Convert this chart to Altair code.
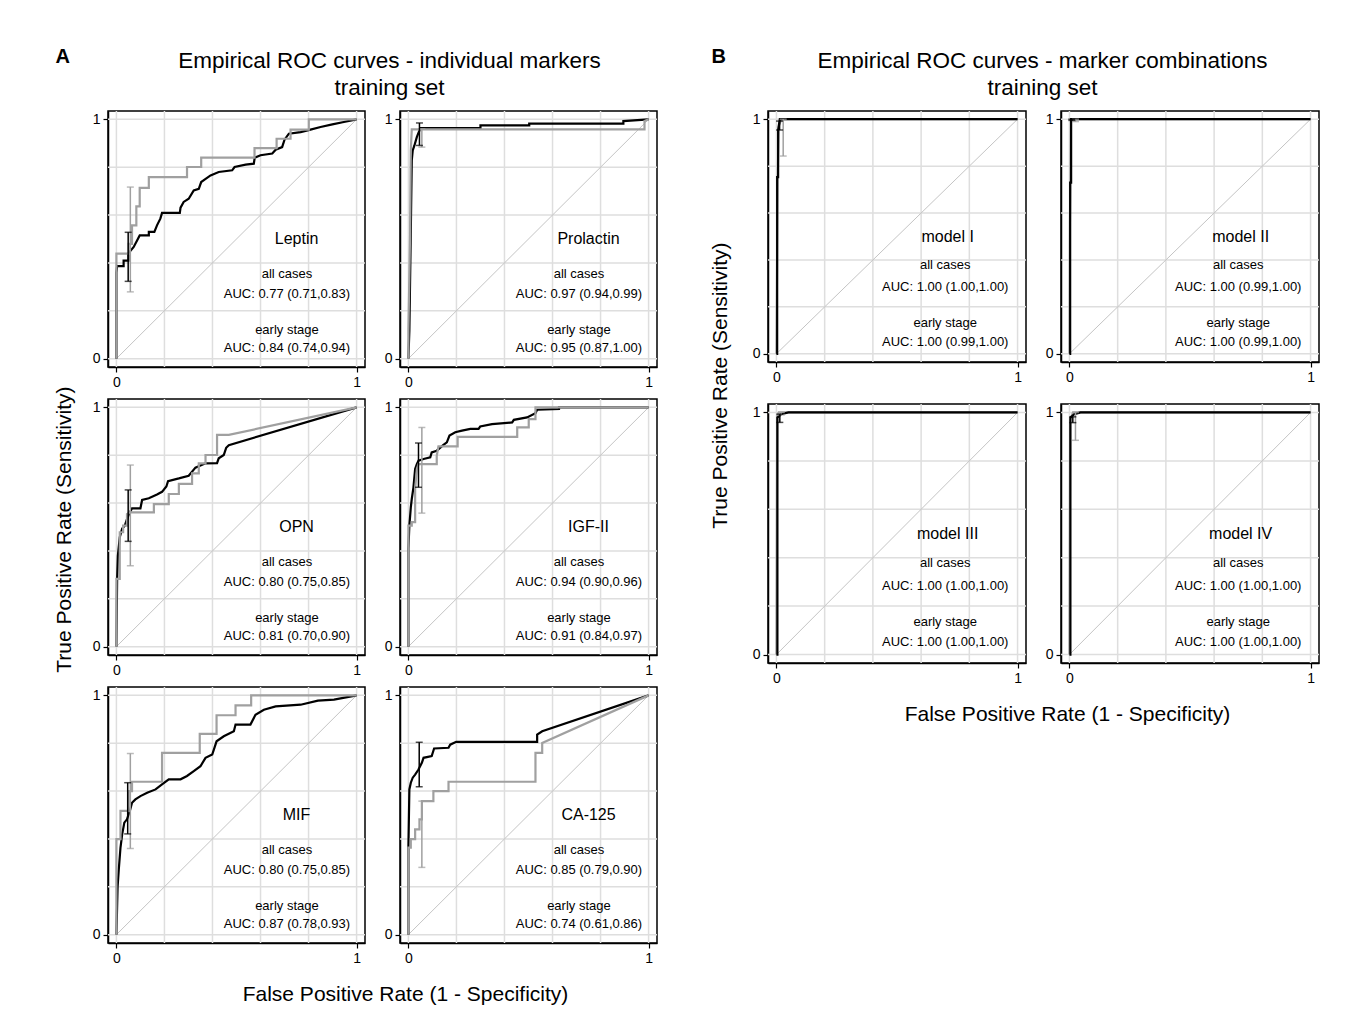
import altair as alt
import pandas as pd

FONT = "Liberation Sans"
BLACK = "#000000"
GRAY = "#a0a0a0"
GRID_C = "#dedede"
DIAG_C = "#c4c4c4"

# ---------------- data ----------------
markers = ["Leptin", "Prolactin", "OPN", "IGF-II", "MIF", "CA-125"]
models = ["model I", "model II", "model III", "model IV"]

# AUC (estimate, lower, upper)
marker_auc_all = [(0.77, 0.71, 0.83), (0.97, 0.94, 0.99), (0.80, 0.75, 0.85),
                  (0.94, 0.90, 0.96), (0.80, 0.75, 0.85), (0.85, 0.79, 0.90)]
marker_auc_early = [(0.84, 0.74, 0.94), (0.95, 0.87, 1.00), (0.81, 0.70, 0.90),
                    (0.91, 0.84, 0.97), (0.87, 0.78, 0.93), (0.74, 0.61, 0.86)]
model_auc_all = [(1.00, 1.00, 1.00), (1.00, 0.99, 1.00), (1.00, 1.00, 1.00), (1.00, 1.00, 1.00)]
model_auc_early = [(1.00, 0.99, 1.00), (1.00, 0.99, 1.00), (1.00, 1.00, 1.00), (1.00, 1.00, 1.00)]

# ROC curve vertices (FPR, TPR): "all cases" (black) and "early stage" (gray)
leptin_all = [(0, 0), (0, 0.36), (0.003, 0.387), (0.03, 0.387), (0.03, 0.41), (0.05, 0.41), (0.05, 0.44),
              (0.072, 0.467), (0.086, 0.494), (0.097, 0.515), (0.135, 0.515), (0.135, 0.53), (0.158, 0.53),
              (0.169, 0.557), (0.183, 0.585), (0.19, 0.609), (0.264, 0.609), (0.267, 0.631), (0.28, 0.655),
              (0.301, 0.668), (0.322, 0.703), (0.343, 0.71), (0.353, 0.738), (0.367, 0.748), (0.392, 0.766),
              (0.426, 0.78), (0.482, 0.787), (0.492, 0.801), (0.538, 0.811), (0.572, 0.815), (0.576, 0.84),
              (0.6, 0.85), (0.649, 0.857), (0.663, 0.873), (0.69, 0.884), (0.7, 0.915), (0.718, 0.94),
              (0.767, 0.947), (0.808, 0.957), (0.85, 0.968), (0.899, 0.979), (0.947, 0.989), (1, 1)]
leptin_early = [(0, 0), (0, 0.439), (0.051, 0.439), (0.051, 0.48), (0.065, 0.48), (0.065, 0.557), (0.083, 0.557),
                (0.083, 0.636), (0.097, 0.636), (0.097, 0.714), (0.135, 0.714), (0.135, 0.759), (0.294, 0.759),
                (0.294, 0.801), (0.353, 0.801), (0.353, 0.84), (0.575, 0.84), (0.575, 0.88), (0.667, 0.88),
                (0.667, 0.919), (0.725, 0.919), (0.725, 0.957), (0.801, 0.957), (0.801, 1), (1, 1)]

prolactin_all = [(0, 0), (0.004, 0.118), (0.01, 0.536), (0.014, 0.829), (0.018, 0.87), (0.025, 0.891),
                 (0.035, 0.926), (0.046, 0.954), (0.049, 0.964), (0.3, 0.964), (0.3, 0.975), (0.503, 0.975),
                 (0.503, 0.982), (0.895, 0.982), (0.895, 0.993), (1, 1)]
prolactin_early = [(0, 0), (0, 0.118), (0.007, 0.52), (0.01, 0.87), (0.014, 0.958), (0.983, 0.958),
                   (0.983, 0.993), (1, 1)]

opn_all = [(0, 0), (0.003, 0.283), (0.006, 0.38), (0.014, 0.457), (0.024, 0.494), (0.035, 0.506), (0.044, 0.533),
           (0.056, 0.561), (0.065, 0.578), (0.1, 0.578), (0.107, 0.613), (0.135, 0.62), (0.169, 0.636),
           (0.19, 0.647), (0.208, 0.669), (0.215, 0.692), (0.26, 0.703), (0.301, 0.714), (0.329, 0.748),
           (0.371, 0.766), (0.419, 0.767), (0.426, 0.787), (0.447, 0.801), (0.457, 0.831), (0.468, 0.842), (1, 1)]
opn_early = [(0, 0), (0, 0.283), (0.014, 0.283), (0.014, 0.478), (0.028, 0.478), (0.028, 0.506), (0.044, 0.506),
             (0.044, 0.554), (0.056, 0.561), (0.156, 0.561), (0.156, 0.596), (0.218, 0.596), (0.218, 0.638),
             (0.26, 0.638), (0.26, 0.68), (0.315, 0.68), (0.315, 0.724), (0.343, 0.724), (0.343, 0.766),
             (0.371, 0.766), (0.371, 0.801), (0.419, 0.801), (0.419, 0.885), (0.468, 0.885), (1, 1)]

igf_all = [(0, 0), (0, 0.408), (0.004, 0.506), (0.01, 0.582), (0.014, 0.617), (0.021, 0.666), (0.028, 0.742),
           (0.035, 0.763), (0.042, 0.777), (0.063, 0.784), (0.091, 0.791), (0.097, 0.812), (0.118, 0.819),
           (0.146, 0.843), (0.16, 0.854), (0.171, 0.882), (0.195, 0.896), (0.223, 0.903), (0.258, 0.91),
           (0.292, 0.91), (0.299, 0.92), (0.348, 0.93), (0.432, 0.937), (0.439, 0.948), (0.494, 0.958),
           (0.529, 0.976), (0.536, 0.99), (0.627, 0.993), (0.627, 1), (1, 1)]
igf_early = [(0, 0), (0, 0.506), (0.014, 0.506), (0.014, 0.52), (0.028, 0.52), (0.028, 0.659), (0.035, 0.742),
             (0.042, 0.763), (0.118, 0.763), (0.118, 0.798), (0.125, 0.837), (0.205, 0.837), (0.205, 0.877),
             (0.453, 0.877), (0.453, 0.916), (0.501, 0.916), (0.501, 0.951), (0.529, 0.951), (0.529, 1), (1, 1)]

mif_all = [(0, 0), (0.005, 0.2), (0.01, 0.274), (0.017, 0.364), (0.024, 0.419), (0.033, 0.468), (0.044, 0.482),
           (0.056, 0.517), (0.065, 0.551), (0.079, 0.565), (0.1, 0.579), (0.128, 0.593), (0.163, 0.607),
           (0.194, 0.631), (0.218, 0.649), (0.267, 0.649), (0.294, 0.663), (0.322, 0.683), (0.35, 0.704),
           (0.371, 0.739), (0.399, 0.753), (0.417, 0.808), (0.447, 0.829), (0.489, 0.85), (0.496, 0.878),
           (0.558, 0.878), (0.579, 0.919), (0.614, 0.94), (0.663, 0.954), (0.767, 0.961), (0.839, 0.978),
           (0.906, 0.982), (1, 1)]
mif_early = [(0, 0), (0, 0.399), (0.017, 0.399), (0.017, 0.517), (0.051, 0.517), (0.051, 0.6), (0.065, 0.6),
             (0.065, 0.639), (0.19, 0.639), (0.19, 0.76), (0.347, 0.76), (0.347, 0.839), (0.417, 0.839),
             (0.417, 0.917), (0.496, 0.917), (0.496, 0.958), (0.561, 0.958), (0.561, 1), (1, 1)]

ca125_all = [(0, 0), (0, 0.364), (0.004, 0.607), (0.01, 0.635), (0.018, 0.656), (0.028, 0.669), (0.042, 0.69),
             (0.056, 0.718), (0.063, 0.739), (0.097, 0.746), (0.107, 0.778), (0.167, 0.781), (0.174, 0.794),
             (0.199, 0.806), (0.536, 0.806), (0.536, 0.836), (0.557, 0.85), (1, 1)]
ca125_early = [(0, 0), (0, 0.364), (0.01, 0.364), (0.01, 0.399), (0.028, 0.399), (0.028, 0.44), (0.046, 0.44),
               (0.046, 0.482), (0.056, 0.482), (0.056, 0.558), (0.104, 0.558), (0.104, 0.6), (0.167, 0.6),
               (0.167, 0.639), (0.529, 0.639), (0.529, 0.76), (0.557, 0.76), (0.557, 0.801), (1, 1)]

model1_all = [(0, 0), (0.003, 0), (0.003, 0.753), (0.007, 0.753), (0.007, 0.954), (0.014, 1), (1, 1)]
model1_early = [(0, 0), (0.005, 0.75), (0.01, 0.97), (0.02, 1), (1, 1)]
model2_all = [(0, 0), (0.003, 0), (0.003, 0.73), (0.007, 0.73), (0.007, 1), (1, 1)]
model2_early = [(0, 0), (0.002, 0.56), (0.004, 0.73), (0.006, 0.99), (0.01, 1), (1, 1)]
model3_all = [(0, 0), (0.004, 0), (0.004, 0.979), (0.02, 0.993), (0.05, 1), (1, 1)]
model3_early = [(0, 0), (0.003, 0.985), (0.01, 1), (1, 1)]
model4_all = [(0, 0), (0.004, 0), (0.004, 0.979), (0.02, 0.993), (0.046, 1), (1, 1)]
model4_early = [(0, 0), (0.003, 0.97), (0.015, 1), (1, 1)]

# confidence bars for sensitivity near 95% specificity: (FPR, low, high)
marker_bar_all = [(0.049, 0.323, 0.528), (0.046, 0.891, 0.985), (0.049, 0.44, 0.655),
                  (0.042, 0.666, 0.851), (0.047, 0.421, 0.635), (0.045, 0.618, 0.804)]
marker_bar_early = [(0.058, 0.279, 0.717), (0.056, 0.884, 0.96), (0.058, 0.338, 0.759),
                    (0.056, 0.558, 0.916), (0.058, 0.36, 0.757), (0.056, 0.281, 0.558)]
model_bar_all = [(0.013, 0.954, 0.992), (0.01, 0.995, 1.0), (0.014, 0.959, 0.993), (0.014, 0.958, 0.982)]
model_bar_early = [(0.028, 0.843, 1.0), (0.025, 0.99, 1.0), (0.02, 0.99, 1.0), (0.025, 0.885, 1.0)]

grid_vals = [0, 0.2, 0.4, 0.6, 0.8, 1.0]
tick_vals = [0, 1]

marker_curves = [(leptin_all, leptin_early), (prolactin_all, prolactin_early), (opn_all, opn_early),
                 (igf_all, igf_early), (mif_all, mif_early), (ca125_all, ca125_early)]
model_curves = [(model1_all, model1_early), (model2_all, model2_early),
                (model3_all, model3_early), (model4_all, model4_early)]

# ---------------- chart building ----------------
DOM = [-0.035, 1.035]


def axis():
    return alt.Axis(values=tick_vals, format="d", grid=False, title=None, tickSize=5,
                    labelPadding=3, labelFontSize=14, labelFont=FONT, labelColor="black",
                    tickColor="black", domainColor="black", domainWidth=1.5, tickWidth=1.2)


def X(f):
    return alt.X(f, type="quantitative", scale=alt.Scale(domain=DOM, nice=False, zero=False), axis=axis())


def Y(f):
    return alt.Y(f, type="quantitative", scale=alt.Scale(domain=DOM, nice=False, zero=False), axis=axis())


def pts_df(points):
    return pd.DataFrame({"fpr": [p[0] for p in points], "tpr": [p[1] for p in points],
                         "i": list(range(len(points)))})


def curve(points, color):
    return alt.Chart(pts_df(points)).mark_line(color=color, strokeWidth=2.2, strokeJoin="miter").encode(
        x=X("fpr"), y=Y("tpr"), order=alt.Order("i:Q"))


def ebar(bar, color):
    df = pd.DataFrame({"x": [bar[0]], "lo": [bar[1]], "hi": [bar[2]]})
    caps = pd.DataFrame({"x": [bar[0], bar[0]], "v": [bar[1], bar[2]]})
    r = alt.Chart(df).mark_rule(color=color, strokeWidth=1.5).encode(x=X("x"), y=Y("lo"), y2=alt.Y2("hi"))
    t = alt.Chart(caps).mark_tick(color=color, orient="horizontal", size=7, thickness=1.5).encode(
        x=X("x"), y=Y("v"))
    return [r, t]


def auc_text(v):
    return f"AUC: {v[0]:.2f} ({v[1]:.2f},{v[2]:.2f})"


def panel(name, curves, bar_all, bar_early, a_all, a_early, w, h, black_on_top, name_x, sub_x, ty):
    gdf = pd.DataFrame({"g": grid_vals})
    vgrid = alt.Chart(gdf).mark_rule(color=GRID_C, strokeWidth=1.5).encode(x=X("g"))
    hgrid = alt.Chart(gdf).mark_rule(color=GRID_C, strokeWidth=1.5).encode(y=Y("g"))
    diag = alt.Chart(pd.DataFrame({"fpr": [0, 1], "tpr": [0, 1]})).mark_line(
        color=DIAG_C, strokeWidth=1).encode(x=X("fpr"), y=Y("tpr"))
    blk = curve(curves[0], BLACK)
    gry = curve(curves[1], GRAY)
    layers = [vgrid, hgrid, diag] + ([gry, blk] if black_on_top else [blk, gry])
    layers += ebar(bar_early, GRAY) + ebar(bar_all, BLACK)
    ndf = pd.DataFrame({"tx": [name_x], "ty": [ty[0]], "label": [name]})
    sdf = pd.DataFrame({"tx": [sub_x] * 4, "ty": ty[1:],
                        "label": ["all cases", auc_text(a_all), "early stage", auc_text(a_early)]})
    layers.append(alt.Chart(ndf).mark_text(font=FONT, fontSize=16, color="black").encode(
        x=X("tx"), y=Y("ty"), text="label:N"))
    layers.append(alt.Chart(sdf).mark_text(font=FONT, fontSize=13, color="black").encode(
        x=X("tx"), y=Y("ty"), text="label:N"))
    return alt.layer(*layers).properties(width=w, height=h)


YT = "True Positive Rate (Sensitivity)"
XT = "False Positive Rate (1 - Specificity)"


def section(panels, ncol, hs, vs, title_lines, letter, x_dx, y_dx, y_off, t_dx):
    rows = []
    for r in range(len(panels) // ncol):
        rows.append(alt.hconcat(*panels[r * ncol:(r + 1) * ncol], spacing=hs))
    grid = alt.vconcat(*rows, spacing=vs)
    s = alt.vconcat(grid, title=alt.TitleParams(YT, orient="left", anchor="middle", font=FONT, fontSize=21,
                                                fontWeight="normal", color="black", offset=y_off, dx=y_dx))
    s = alt.vconcat(s, title=alt.TitleParams(XT, orient="bottom", anchor="middle", font=FONT, fontSize=21,
                                             fontWeight="normal", color="black", offset=18, dx=x_dx))
    s = alt.vconcat(s, title=alt.TitleParams(title_lines, orient="top", anchor="middle", font=FONT,
                                             fontSize=22.5, fontWeight="normal", color="black", lineHeight=27,
                                             offset=10, dx=t_dx))
    s = alt.vconcat(s, title=alt.TitleParams(letter, orient="top", anchor="start", font=FONT, fontSize=20,
                                             fontWeight="bold", color="black", offset=0, dx=1, dy=17))
    return s


ty_a = [0.50, 0.355, 0.27, 0.12, 0.045]
ty_b = [0.50, 0.38, 0.285, 0.133, 0.05]

panels_a = []
for k, nm in enumerate(markers):
    panels_a.append(panel(nm, marker_curves[k], marker_bar_all[k], marker_bar_early[k],
                          marker_auc_all[k], marker_auc_early[k], 257, 256, False, 0.75, 0.71, ty_a))

heights_b = [251, 251, 259, 259]
panels_b = []
for k, nm in enumerate(models):
    panels_b.append(panel(nm, model_curves[k], model_bar_all[k], model_bar_early[k],
                          model_auc_all[k], model_auc_early[k], 258, heights_b[k], True, 0.71, 0.70, ty_b))

sec_a = section(panels_a, 2, 16, 7,
                ["Empirical ROC curves - individual markers", "training set"], "A", 49, 8, 16, 33)
sec_b = section(panels_b, 2, 16, 17,
                ["Empirical ROC curves - marker combinations", "training set"], "B", 52, 12, 20, 27)

chart = alt.hconcat(sec_a, sec_b, spacing=51).properties(
    padding={"left": 46, "top": 39, "right": 10, "bottom": 10},
    background="white",
).configure_view(stroke="black", strokeWidth=1.5).configure_concat(spacing=10)

chart.save("out.html", embed_options={"renderer": "svg", "actions": False})
